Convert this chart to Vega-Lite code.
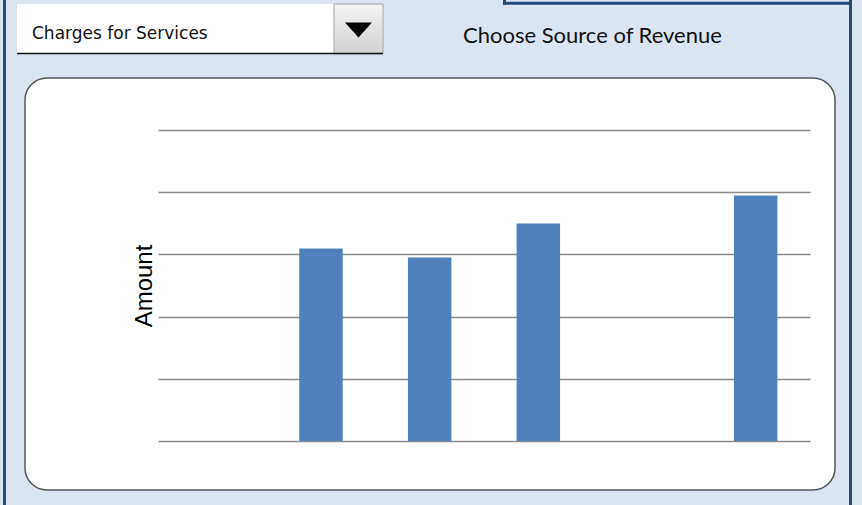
{
  "$schema": "https://vega.github.io/schema/vega-lite/v6.json",
  "width": 810,
  "height": 412,
  "autosize": "none",
  "padding": {"left": 25, "top": 78, "right": 27, "bottom": 15},
  "background": "#dbe5f1",
  "config": {
    "view": {"fill": "white", "stroke": "#555555", "strokeWidth": 1.5, "cornerRadius": 22}
  },
  "layer": [
    {
      "data": {"values": [{}]},
      "mark": {"type": "rule", "color": "#254a7c", "strokeWidth": 3},
      "encoding": {"x": {"value": -20.5}, "y": {"value": -78}, "y2": {"value": 427}}
    },
    {
      "data": {"values": [{}]},
      "mark": {"type": "rule", "color": "#254a7c", "strokeWidth": 3},
      "encoding": {"x": {"value": 825.5}, "y": {"value": -78}, "y2": {"value": 427}}
    },
    {
      "data": {"values": [{}]},
      "mark": {"type": "rule", "color": "#254a7c", "strokeWidth": 3},
      "encoding": {"x": {"value": 478}, "x2": {"value": 827}, "y": {"value": -74.8}}
    },
    {
      "data": {"values": [{}]},
      "mark": {"type": "rule", "color": "#254a7c", "strokeWidth": 3},
      "encoding": {"x": {"value": 479.5}, "y": {"value": -78}, "y2": {"value": -73.3}}
    },
    {
      "data": {"values": [{}]},
      "mark": {"type": "rect", "fill": "white"},
      "encoding": {"x": {"value": -8}, "x2": {"value": 358}, "y": {"value": -74}, "y2": {"value": -24}}
    },
    {
      "data": {"values": [{}]},
      "mark": {
        "type": "rect",
        "stroke": "#a6a6a6",
        "strokeWidth": 1,
        "fill": {
          "gradient": "linear", "x1": 0, "y1": 0, "x2": 0, "y2": 1,
          "stops": [{"offset": 0, "color": "#f4f4f4"}, {"offset": 1, "color": "#d2d2d2"}]
        }
      },
      "encoding": {"x": {"value": 309}, "x2": {"value": 358}, "y": {"value": -74}, "y2": {"value": -24}}
    },
    {
      "data": {"values": [{}]},
      "mark": {"type": "rule", "color": "#111111", "strokeWidth": 1.5},
      "encoding": {"x": {"value": -8}, "x2": {"value": 358}, "y": {"value": -24.5}}
    },
    {
      "data": {"values": [{}]},
      "mark": {"type": "point", "shape": "M-1,-0.55L1,-0.55L0,0.55Z", "filled": true, "color": "black", "opacity": 1, "size": 729},
      "encoding": {"x": {"value": 333.5}, "y": {"value": -48}}
    },
    {
      "data": {"values": [{"label": "Charges for Services"}]},
      "mark": {"type": "text", "align": "left", "baseline": "alphabetic", "font": "DejaVu Sans", "fontSize": 17, "color": "#111111"},
      "encoding": {"x": {"value": 7}, "y": {"value": -39.5}, "text": {"field": "label"}}
    },
    {
      "data": {"values": [{"label": "Choose Source of Revenue"}]},
      "mark": {"type": "text", "align": "left", "baseline": "alphabetic", "font": "Lato", "fontSize": 22, "color": "#111111"},
      "encoding": {"x": {"value": 438}, "y": {"value": -34.7}, "text": {"field": "label"}}
    },
    {
      "data": {
        "values": [
          {"Year": "2008", "Amount": null},
          {"Year": "2009", "Amount": 3.095},
          {"Year": "2010", "Amount": 2.95},
          {"Year": "2011", "Amount": 3.497},
          {"Year": "2012", "Amount": null},
          {"Year": "2013", "Amount": 3.947}
        ]
      },
      "mark": {"type": "bar", "color": "#4f81bd"},
      "encoding": {
        "x": {
          "field": "Year", "type": "nominal",
          "scale": {"domain": ["2008", "2009", "2010", "2011", "2012", "2013"], "range": [133, 785], "paddingInner": 0.6, "paddingOuter": 0.3},
          "axis": null
        },
        "y": {
          "field": "Amount", "type": "quantitative",
          "scale": {"domain": [0, 5], "range": [363, 52], "nice": false, "zero": true},
          "axis": {
            "title": "Amount",
            "values": [0, 1, 2, 3, 4, 5],
            "labels": false, "ticks": false, "domain": false,
            "grid": true, "gridColor": "#8a8a8a", "gridWidth": 1.5,
            "titleFont": "Liberation Sans", "titleFontSize": 24, "titleFontWeight": "normal", "titleColor": "black",
            "titleX": 126, "titleY": 207.5, "titleAngle": -90, "titleAlign": "center", "titleBaseline": "alphabetic"
          }
        }
      }
    }
  ]
}
